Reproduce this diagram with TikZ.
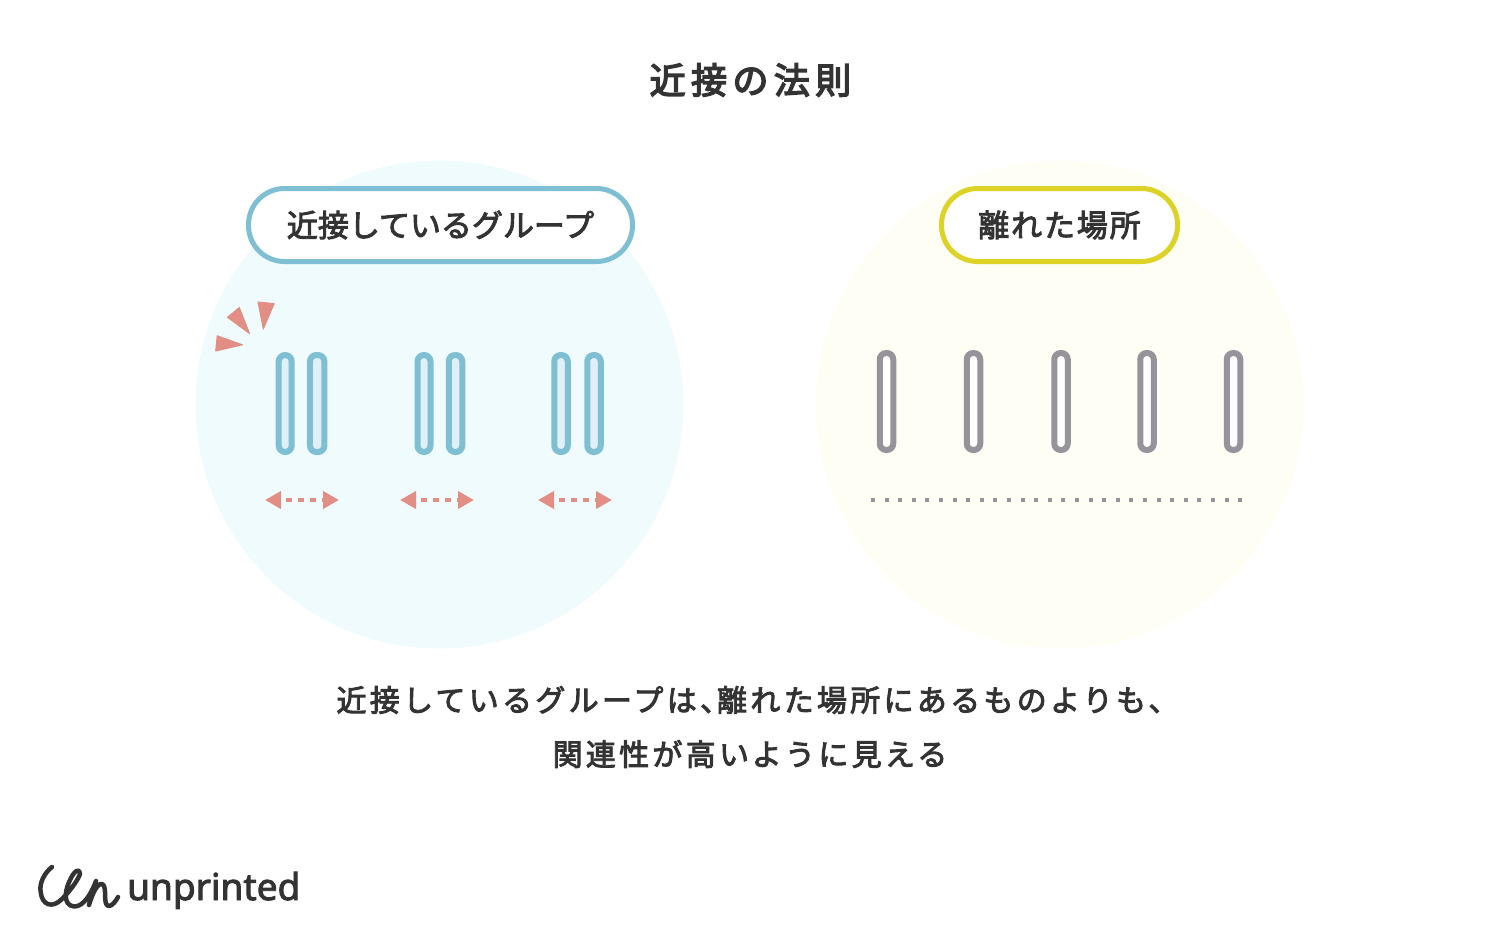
\documentclass[tikz,border=0pt]{standalone}
\usepackage{fontspec}
\usetikzlibrary{positioning,shapes,arrows.meta}
\setmainfont{Noto Sans}
\newfontfamily\brandfont[FakeBold=2.5]{Noto Sans}
\newfontfamily\titlefont[LetterSpace=15,FakeBold=4]{Noto Sans CJK JP}
\newfontfamily\nearfont[FakeBold=3]{Noto Sans CJK JP}
\newfontfamily\farfont[LetterSpace=6,FakeBold=3]{Noto Sans CJK JP}
\newfontfamily\bodyfont[LetterSpace=11,FakeBold=3]{Noto Sans CJK JP}
\definecolor{inkdark}{HTML}{333333}
\definecolor{groupblue}{HTML}{7FBFD3}
\definecolor{groupfill}{HTML}{E0F0F6}
\definecolor{farblue}{HTML}{EFFBFD}
\definecolor{faryellow}{HTML}{FEFEF5}
\definecolor{pillyellow}{HTML}{DDD226}
\definecolor{bargray}{HTML}{96949A}
\definecolor{markpink}{HTML}{E38E84}
\tikzset{
    backcircle/.style={circle, inner sep=0pt, minimum size=488pt},
    pilllabel/.style={draw, rounded corners=36pt, line width=5pt, fill=white, minimum height=73pt, inner sep=0pt, text=inkdark},
    groupbar/.style={draw=groupblue, fill=groupfill, rounded corners=6.5pt, line width=6pt, minimum width=13pt, minimum height=97pt, inner sep=0pt},
    farbar/.style={draw=bargray, fill=white, rounded corners=6.5pt, line width=6pt, minimum width=13.5pt, minimum height=97pt, inner sep=0pt},
    gaparrow/.style={markpink, line width=3.8pt, dash pattern=on 6pt off 6pt, dash phase=6pt, {Triangle[length=16pt,width=17pt]}-{Triangle[length=16pt,width=17pt]}},
    sparkmark/.style={fill=markpink, draw=markpink, line width=1pt, line join=round},
    bodytext/.style={text=inkdark, inner sep=0pt, font=\bodyfont\fontsize{30}{36}\selectfont}
}
\begin{document}
\begin{tikzpicture}[x=1pt, y=-1pt]
    \useasboundingbox (0,0) rectangle (1500,938);
    \node (Title) [text=inkdark, inner sep=0pt, font=\titlefont\fontsize{36}{42}\selectfont] at (750.5,80) {近接の法則};
    \node (NearCircle) [backcircle, fill=farblue] at (439.5,404.5) {};
    \node (FarCircle) [backcircle, fill=faryellow] at (1060,404.5) {};
    \node (NearLabel) [pilllabel, draw=groupblue, minimum width=384pt, font=\nearfont\fontsize{31}{36}\selectfont] at (440.5,225) {近接しているグループ};
    \node (FarLabel) [pilllabel, draw=pillyellow, minimum width=236pt, font=\farfont\fontsize{31}{36}\selectfont] at (1059.5,225) {離れた場所};

    \path[sparkmark] (258,302) -- (274.2,303.6) -- (263.3,329) -- cycle;
    \path[sparkmark] (239.3,307.5) -- (227.5,317.3) -- (249.5,333.5) -- cycle;
    \path[sparkmark] (217.2,335.8) -- (215.7,351) -- (242.5,344.8) -- cycle;

    \node (NearBarA) [groupbar] at (285.2,403.5) {};
    \node (NearBarB) [groupbar, minimum width=14.5pt] at (317.2,403.5) {};
    \node (NearBarC) [groupbar] at (424,403.5) {};
    \node (NearBarD) [groupbar, minimum width=13.5pt] at (455.5,403.5) {};
    \node (NearBarE) [groupbar, minimum width=13.5pt] at (561,403.5) {};
    \node (NearBarF) [groupbar, minimum width=13.5pt] at (594,403.5) {};

    \node (FarBarA) [farbar] at (886.5,401.5) {};
    \node (FarBarB) [farbar] at (973.5,401.5) {};
    \node (FarBarC) [farbar] at (1061,401.5) {};
    \node (FarBarD) [farbar] at (1147,401.5) {};
    \node (FarBarE) [farbar] at (1233.5,401.5) {};

    \coordinate (GapAL) at (265,500);
    \coordinate (GapAR) at (339,500);
    \coordinate (GapBL) at (400,500);
    \coordinate (GapBR) at (474,500);
    \coordinate (GapCL) at (538,500);
    \coordinate (GapCR) at (612,500);
    \coordinate (DotL) at (871,500);
    \coordinate (DotR) at (1243,500);
    \draw[gaparrow] (GapAL) -- (GapAR);
    \draw[gaparrow] (GapBL) -- (GapBR);
    \draw[gaparrow] (GapCL) -- (GapCR);
    \draw[bargray, line width=3.5pt, dash pattern=on 4pt off 9.6pt] (DotL) -- (DotR);

    \node (BodyA) [bodytext] at (757.5,700) {近接しているグループは、\kern-13pt 離れた場所にあるものよりも、};
    \node (BodyB) [bodytext] at (750,754) {関連性が高いように見える};

    \draw[inkdark, line width=4.5pt, line cap=round, line join=round] (52,867) .. controls (44,873) and (39,884) .. (40.7,892) .. controls (42,905) and (52,909) .. (62,899) .. controls (70,891) and (78,880) .. (80,874) .. controls (80,868) and (75,870) .. (71,878) .. controls (65,889) and (62,905) .. (74,906.5) .. controls (84,907) and (92,892) .. (96,881) .. controls (94,889) and (91,898) .. (89,905) .. controls (92,895) and (97,883) .. (102,884) .. controls (108,886) and (102,906) .. (109,906) .. controls (112,906) and (116,901) .. (118,897);
    \node (Brand) [text=inkdark, inner sep=0pt, font=\brandfont\fontsize{37}{44}\selectfont, anchor=base west] at (127,900) {unprinted};
\end{tikzpicture}
\end{document}
